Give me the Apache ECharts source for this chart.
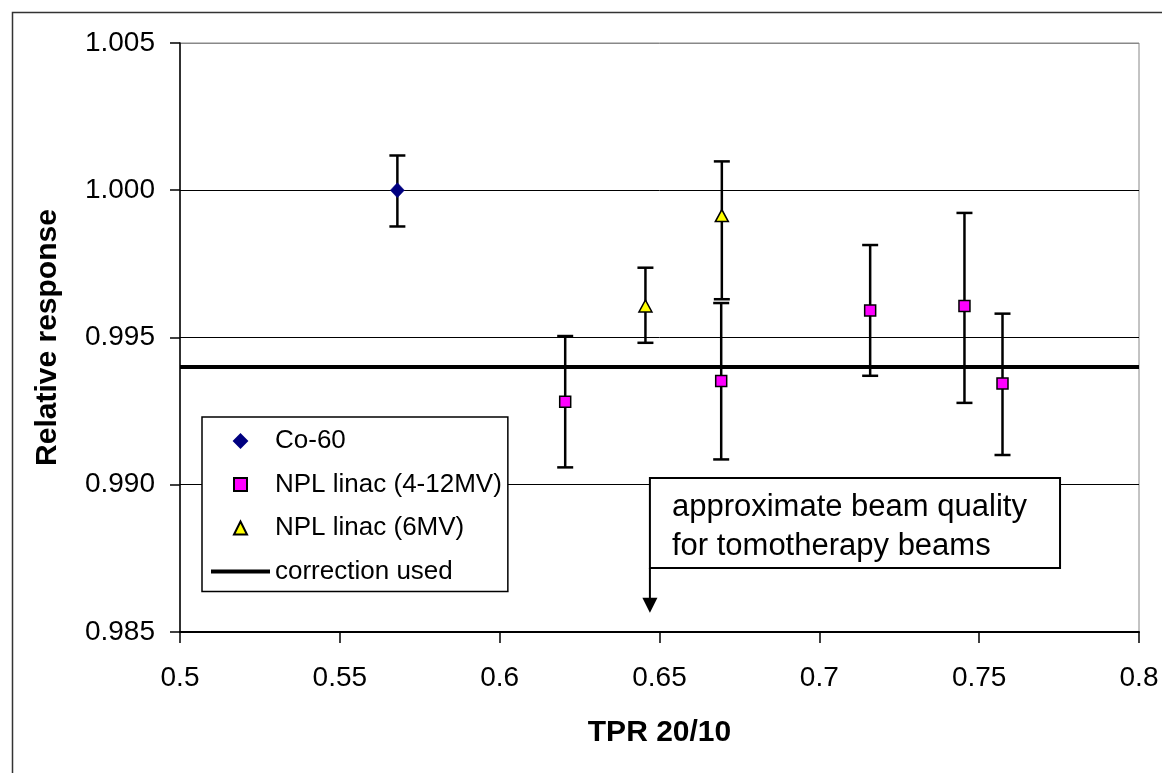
<!DOCTYPE html>
<html>
<head>
<meta charset="utf-8">
<script src="https://cdn.jsdelivr.net/npm/echarts@6/dist/echarts.min.js"></script>
<style>
html,body{margin:0;padding:0;background:#fff;}
#chart{width:1162px;height:773px;}
</style>
</head>
<body>
<div id="chart"></div>
<script>
// ---- data ----
const xTicks = [0.5, 0.55, 0.6, 0.65, 0.7, 0.75, 0.8];
const yTicks = [0.985, 0.990, 0.995, 1.000, 1.005];

const coX = [0.568];
const coY = [1.000];
const coLow = [0.99877];
const coHigh = [1.00118];

const nplX = [0.6205, 0.6693, 0.7159, 0.7454, 0.7573];
const nplY = [0.99282, 0.99352, 0.99592, 0.99607, 0.99344];
const nplLow = [0.99059, 0.99086, 0.99370, 0.99278, 0.99101];
const nplHigh = [0.99505, 0.99617, 0.99814, 0.99923, 0.99581];

const mvX = [0.6456, 0.6695];
const mvY = [0.99607, 0.99914];
const mvLow = [0.99482, 0.99630];
const mvHigh = [0.99737, 1.00098];

const correctionX = [0.5, 0.8];
const correctionY = [0.994, 0.994];

const seriesNames = ['Co-60', 'NPL linac (4-12MV)', 'NPL linac (6MV)', 'correction used'];
const annotationLines = ['approximate beam quality', 'for tomotherapy beams'];
const annotationArrowX = 0.647;

// ---- build ----
const FONT = '"Liberation Sans", Arial, sans-serif';
const pts = (xs, ys) => xs.map((x, i) => [x, ys[i]]);
const errs = (xs, lo, hi) => xs.map((x, i) => [x, lo[i], hi[i]]);

function errorRender(params, api) {
  const x = api.value(0), lo = api.value(1), hi = api.value(2);
  const a = api.coord([x, hi]), b = api.coord([x, lo]);
  const cw = 8;
  const st = {stroke: '#000', lineWidth: 2.5, fill: null};
  return {type: 'group', children: [
    {type: 'line', shape: {x1: a[0], y1: a[1], x2: b[0], y2: b[1]}, style: st},
    {type: 'line', shape: {x1: a[0] - cw, y1: a[1], x2: a[0] + cw, y2: a[1]}, style: st},
    {type: 'line', shape: {x1: b[0] - cw, y1: b[1], x2: b[0] + cw, y2: b[1]}, style: st}
  ]};
}
function errSeries(data) {
  return {type: 'custom', renderItem: errorRender, data: data, encode: {x: 0, y: [1, 2]}, z: 3, silent: true};
}

const legendIcons = [
  'path://M0,-1L1,0L0,1L-1,0Z',
  'path://M0,0H1V1H0Z',
  'path://M0,-1L1,1L-1,1Z',
  'path://M0,0H59V4H0Z'
];

const chart = echarts.init(document.getElementById('chart'), null, {renderer: 'canvas'});
const option = {
  animation: false,
  backgroundColor: '#fff',
  textStyle: {fontFamily: FONT},
  grid: {left: 180, right: 23, top: 43, bottom: 141, show: true, borderColor: '#888', borderWidth: 1},
  legend: {
    data: seriesNames.map((n, i) => ({name: n, icon: legendIcons[i]})),
    orient: 'vertical',
    left: 202, top: 417,
    padding: [11, 6, 7, 9],
    itemGap: 17.5,
    itemWidth: 59, itemHeight: 13,
    symbolKeepAspect: true,
    backgroundColor: '#fff',
    borderColor: '#000', borderWidth: 1.5,
    textStyle: {fontSize: 26, color: '#000', fontFamily: FONT},
    selectedMode: false
  },
  xAxis: {
    type: 'value', min: xTicks[0], max: xTicks[xTicks.length - 1], interval: 0.05,
    name: 'TPR 20/10', nameLocation: 'middle', nameGap: 86,
    nameTextStyle: {fontSize: 30, fontWeight: 'bold', color: '#000', fontFamily: FONT},
    axisLine: {show: true, onZero: false, lineStyle: {color: '#000', width: 2}},
    axisTick: {show: true, length: 11, lineStyle: {color: '#000', width: 1.5}},
    axisLabel: {fontSize: 28, color: '#000', margin: 32, fontFamily: FONT},
    splitLine: {show: false}
  },
  yAxis: {
    type: 'value', min: yTicks[0], max: yTicks[yTicks.length - 1], interval: 0.005,
    name: 'Relative response', nameLocation: 'middle', nameGap: 117,
    nameTextStyle: {fontSize: 30, fontWeight: 'bold', color: '#000', fontFamily: FONT},
    axisLine: {show: true, onZero: false, lineStyle: {color: '#000', width: 1.5}},
    axisTick: {show: true, length: 10, lineStyle: {color: '#000', width: 1.5}},
    axisLabel: {fontSize: 28, color: '#000', margin: 25, fontFamily: FONT, formatter: v => v.toFixed(3)},
    splitLine: {show: true, lineStyle: {color: ['#000', '#000', '#000', '#000', '#888'], width: 1}}
  },
  series: [
    errSeries(errs(coX, coLow, coHigh)),
    errSeries(errs(nplX, nplLow, nplHigh)),
    errSeries(errs(mvX, mvLow, mvHigh)),
    {
      name: seriesNames[3], type: 'line', data: pts(correctionX, correctionY),
      symbol: 'none', showSymbol: false, lineStyle: {color: '#000', width: 4}, itemStyle: {color: '#000'}, z: 4, silent: true
    },
    {
      name: seriesNames[0], type: 'scatter', data: pts(coX, coY),
      symbol: 'diamond', symbolSize: [14, 15],
      itemStyle: {color: '#000080', borderColor: '#000080', borderWidth: 0.5, opacity: 1}, z: 6
    },
    {
      name: seriesNames[1], type: 'scatter', data: pts(nplX, nplY),
      symbol: 'rect', symbolSize: 11,
      itemStyle: {color: '#FF00FF', borderColor: '#000', borderWidth: 1.5, opacity: 1}, z: 6
    },
    {
      name: seriesNames[2], type: 'scatter', data: pts(mvX, mvY),
      symbol: 'triangle', symbolSize: [13, 12],
      itemStyle: {color: '#FFFF00', borderColor: '#000', borderWidth: 1.5, opacity: 1}, z: 6
    }
  ]
};
chart.setOption(option);

// annotation box and arrow, placed via the chart's scales
const boxTopY = 0.99023, boxBottomY = 0.98717, boxRightX = 0.7753, arrowTipY = 0.98565;
const pTL = chart.convertToPixel({gridIndex: 0}, [annotationArrowX, boxTopY]);
const pBR = chart.convertToPixel({gridIndex: 0}, [boxRightX, boxBottomY]);
const pTip = chart.convertToPixel({gridIndex: 0}, [annotationArrowX, arrowTipY]);
const headH = 15, headW = 7.5;

chart.setOption({
  graphic: [
    {type: 'rect', left: 10, top: 10, shape: {width: 1200, height: 800}, style: {fill: null, stroke: '#333', lineWidth: 1.5}, z: 0, silent: true},
    {type: 'rect', x: pTL[0], y: pTL[1], shape: {width: pBR[0] - pTL[0], height: pBR[1] - pTL[1]},
      style: {fill: '#fff', stroke: '#000', lineWidth: 2}, z: 10, silent: true},
    {type: 'text', x: pTL[0] + 22, y: (pTL[1] + pBR[1]) / 2 + 4,
      style: {text: annotationLines.join('\n'), font: '31px ' + FONT, fill: '#000', lineHeight: 39,
        align: 'left', verticalAlign: 'middle'}, z: 11, silent: true},
    {type: 'line', shape: {x1: pTL[0], y1: pBR[1], x2: pTip[0], y2: pTip[1] - headH + 1},
      style: {stroke: '#000', lineWidth: 2}, z: 10, silent: true},
    {type: 'polygon', shape: {points: [[pTip[0] - headW, pTip[1] - headH], [pTip[0] + headW, pTip[1] - headH], [pTip[0], pTip[1]]]},
      style: {fill: '#000'}, z: 10, silent: true}
  ]
});
</script>
</body>
</html>
